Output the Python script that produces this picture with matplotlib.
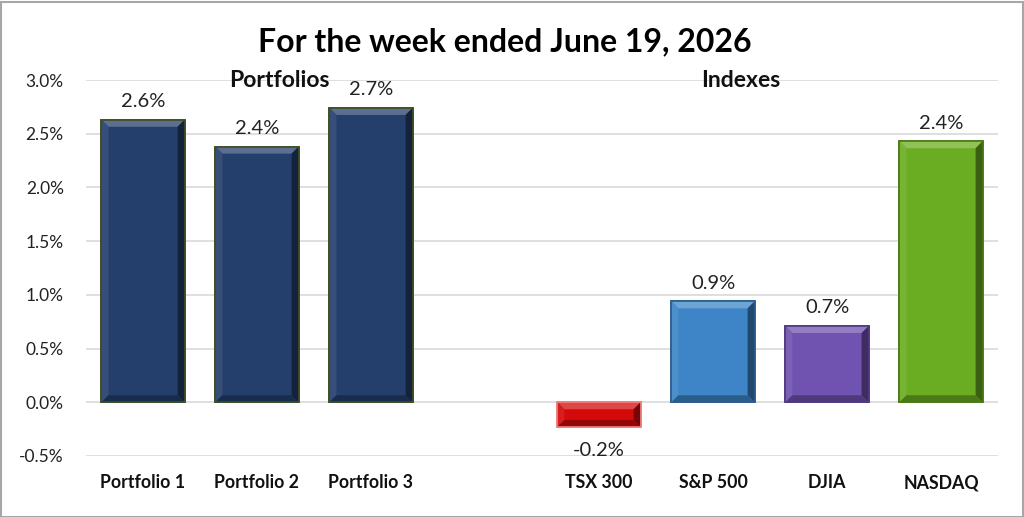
import matplotlib
matplotlib.use("Agg")
import matplotlib.pyplot as plt
from matplotlib.patches import Polygon, Rectangle
import matplotlib.colors as mcolors
import numpy as np

plt.rcParams['font.family'] = ['Lato', 'DejaVu Sans']

# ---- data ----
categories = ["Portfolio 1", "Portfolio 2", "Portfolio 3", "", "TSX 300", "S&P 500", "DJIA", "NASDAQ"]
values = [2.63, 2.38, 2.74, None, -0.23, 0.94, 0.71, 2.43]
colors = ["#253F6C", "#253F6C", "#253F6C", None, "#D40A0A", "#3D85C6", "#7052B0", "#6BAD22"]
edges = ["#3D4F22", "#3D4F22", "#3D4F22", None, "#F08080", "#2B5F8E", "#4F3A80", "#4B7A18"]
yticks = [-0.5, 0.0, 0.5, 1.0, 1.5, 2.0, 2.5, 3.0]
title = "For the week ended June 19, 2026"
group_labels = [("Portfolios", 1.2), ("Indexes", 5.24)]

W, H = 1024, 517
fig = plt.figure(figsize=(W / 100, H / 100), dpi=100)
ax = fig.add_axes([86 / W, 1 - 456 / H, (998 - 86) / W, (456 - 80) / H])

n = len(categories)
x = np.arange(n)
ax.set_xlim(-0.5, n - 0.5)
ax.set_ylim(yticks[0], yticks[-1])

bw = 0.73
# pixel -> data scale
axw = (998 - 86)
axh = (456 - 80)
px_x = (n) / axw
px_y = (yticks[-1] - yticks[0]) / axh


def shade(c, f):
    r, g, b = mcolors.to_rgb(c)
    if f > 0:
        return (r + (1 - r) * f, g + (1 - g) * f, b + (1 - b) * f)
    return (r * (1 + f), g * (1 + f), b * (1 + f))


for xi, v, c, ec in zip(x, values, colors, edges):
    if v is None:
        continue
    bars = ax.bar(xi, v, width=bw, color=c, edgecolor=ec, linewidth=1.2, zorder=3)
    b = bars[0]
    x0, x1 = b.get_x(), b.get_x() + b.get_width()
    y0, y1 = min(0, v), max(0, v)
    bx = 7 * px_x
    by = 7 * px_y
    if (y1 - y0) < 2.2 * by:
        by = (y1 - y0) / 3
    ix0, ix1, iy0, iy1 = x0 + bx, x1 - bx, y0 + by, y1 - by
    # top bevel
    ax.add_patch(Polygon([(x0, y1), (x1, y1), (ix1, iy1), (ix0, iy1)], closed=True,
                         facecolor=shade(c, 0.25), edgecolor='none', zorder=4))
    # left bevel
    ax.add_patch(Polygon([(x0, y0), (x0, y1), (ix0, iy1), (ix0, iy0)], closed=True,
                         facecolor=shade(c, 0.08), edgecolor='none', zorder=4))
    # right bevel
    ax.add_patch(Polygon([(x1, y0), (x1, y1), (ix1, iy1), (ix1, iy0)], closed=True,
                         facecolor=shade(c, -0.45), edgecolor='none', zorder=4))
    # bottom bevel
    ax.add_patch(Polygon([(x0, y0), (x1, y0), (ix1, iy0), (ix0, iy0)], closed=True,
                         facecolor=shade(c, -0.3), edgecolor='none', zorder=4))
    # outline again
    ax.add_patch(Rectangle((x0, y0), x1 - x0, y1 - y0, facecolor='none', edgecolor=ec,
                           linewidth=1.2, zorder=5))
    lbl = f"{v:.1f}%"
    if v >= 0:
        ax.annotate(lbl, (xi, v), xytext=(0, 7), textcoords='offset points',
                    ha='center', va='bottom', fontsize=14.5, color='#222222', zorder=6)
    else:
        ax.annotate(lbl, (xi, v), xytext=(0, -11), textcoords='offset points',
                    ha='center', va='top', fontsize=14.5, color='#222222', zorder=6)

ax.set_yticks(yticks)
ax.set_yticklabels([f"{t:.1f}%" for t in yticks], fontsize=12.5, color='#222222')
ax.set_xticks(x)
ax.set_xticklabels(categories, fontsize=12.8, fontweight='bold', color='#111111')
ax.tick_params(axis='y', length=0, pad=16)
ax.tick_params(axis='x', length=0, pad=13)
ax.yaxis.grid(True, color='#D9D9D9', linewidth=1.2, zorder=0)
ax.set_axisbelow(True)
for s in ax.spines.values():
    s.set_visible(False)

for txt, gx in group_labels:
    ax.text(gx, yticks[-1], txt, ha='center', va='center', fontsize=16.5,
            fontweight='bold', color='#111111', zorder=6)

fig.text(505 / W, 1 - 42 / H, title, ha='center', va='center', fontsize=23,
         fontweight='bold', color='#000000')

fig.add_artist(Rectangle((0.5 / W, 0.5 / H), 1 - 2 / W, 1 - 2 / H, transform=fig.transFigure,
                         facecolor='none', edgecolor='#A6A6A6', linewidth=1.5))

fig.savefig("out.png", dpi=100, facecolor='white')
